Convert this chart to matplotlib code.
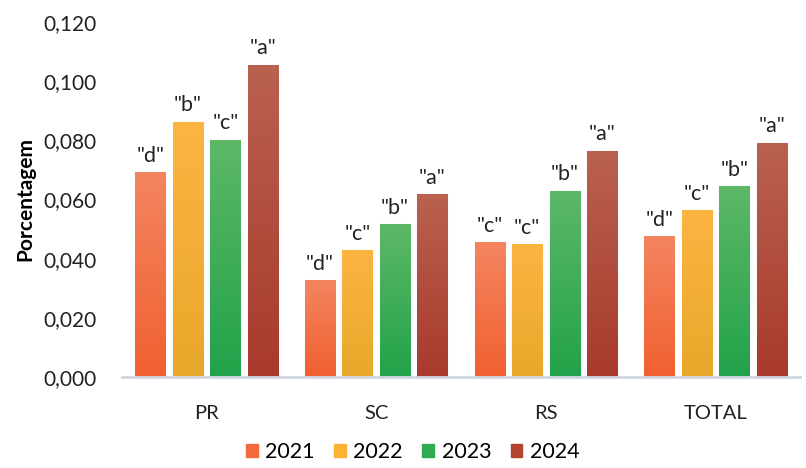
import matplotlib
matplotlib.use("Agg")
import matplotlib.pyplot as plt
import numpy as np
from matplotlib.colors import LinearSegmentedColormap

plt.rcParams['font.family'] = ['Lato', 'DejaVu Sans']

categories = ["PR", "SC", "RS", "TOTAL"]
years = ["2021", "2022", "2023", "2024"]
values = {
    "2021": [0.0691, 0.0327, 0.0455, 0.0475],
    "2022": [0.0863, 0.0428, 0.0448, 0.0563],
    "2023": [0.0802, 0.0516, 0.0630, 0.0644],
    "2024": [0.1055, 0.0617, 0.0765, 0.0792],
}
letters = {
    "2021": ['"d"', '"d"', '"c"', '"d"'],
    "2022": ['"b"', '"c"', '"c"', '"c"'],
    "2023": ['"c"', '"b"', '"b"', '"b"'],
    "2024": ['"a"', '"a"', '"a"', '"a"'],
}
yticks = [0.0, 0.02, 0.04, 0.06, 0.08, 0.10, 0.12]
ytick_labels = ["0,000", "0,020", "0,040", "0,060", "0,080", "0,100", "0,120"]

# top (light) / bottom (dark) gradient colours per year
grad = {
    "2021": ("#F48560", "#F06030"),
    "2022": ("#FCB443", "#E8A82A"),
    "2023": ("#5DB868", "#22A24A"),
    "2024": ("#BA6150", "#A83A2C"),
}
legend_col = {"2021": "#F26A3A", "2022": "#FBB335", "2023": "#2FAA50", "2024": "#B2442F"}

fig = plt.figure(figsize=(8.06, 4.68), dpi=100)
ax = fig.add_axes([0.151, 0.1944, 0.842, 0.759])

x = np.arange(len(categories))
slot = 0.221
width = 0.177

for i, yr in enumerate(years):
    offs = (i - 1.5) * slot
    bars = ax.bar(x + offs, values[yr], width=width, color=legend_col[yr],
                  edgecolor="#D9D9D9", linewidth=0.8, label=yr, zorder=2)
    cmap = LinearSegmentedColormap.from_list(yr, [grad[yr][1], grad[yr][0]])
    for b, lab in zip(bars, letters[yr]):
        bx, by = b.get_x(), b.get_y()
        bw, bh = b.get_width(), b.get_height()
        g = np.linspace(0, 1, 256).reshape(-1, 1)
        im = ax.imshow(g, cmap=cmap, origin="lower", aspect="auto",
                       extent=[bx, bx + bw, by, by + bh], zorder=2.5)
        im.set_clip_path(b)
        ax.text(bx + bw / 2, by + bh + 0.0022, lab, ha="center", va="bottom",
                fontsize=15.5, color="#222222")

ax.set_xlim(-0.5, len(categories) - 0.5)
ax.set_ylim(0, 0.12)
ax.set_yticks(yticks)
ax.set_yticklabels(ytick_labels, fontsize=15, color="#222222")
ax.set_xticks(x)
ax.set_xticklabels(categories, fontsize=14.5, color="#222222")
ax.tick_params(axis="both", length=0)
ax.tick_params(axis="y", pad=18)
ax.tick_params(axis="x", pad=20)
for s in ["top", "right", "left"]:
    ax.spines[s].set_visible(False)
ax.spines["bottom"].set_color("#D0D7E0")
ax.spines["bottom"].set_linewidth(2)
ax.set_ylabel("Porcentagem", fontsize=15, fontweight="bold", labelpad=6)

handles = [plt.Rectangle((0, 0), 1, 1, color=legend_col[y]) for y in years]
fig.legend(handles, years, loc="lower center", bbox_to_anchor=(0.512, -0.028),
           ncol=4, frameon=False, fontsize=15.5, handlelength=0.55, handleheight=0.55,
           handletextpad=0.35, columnspacing=0.9)

fig.savefig("out.png", dpi=100)
